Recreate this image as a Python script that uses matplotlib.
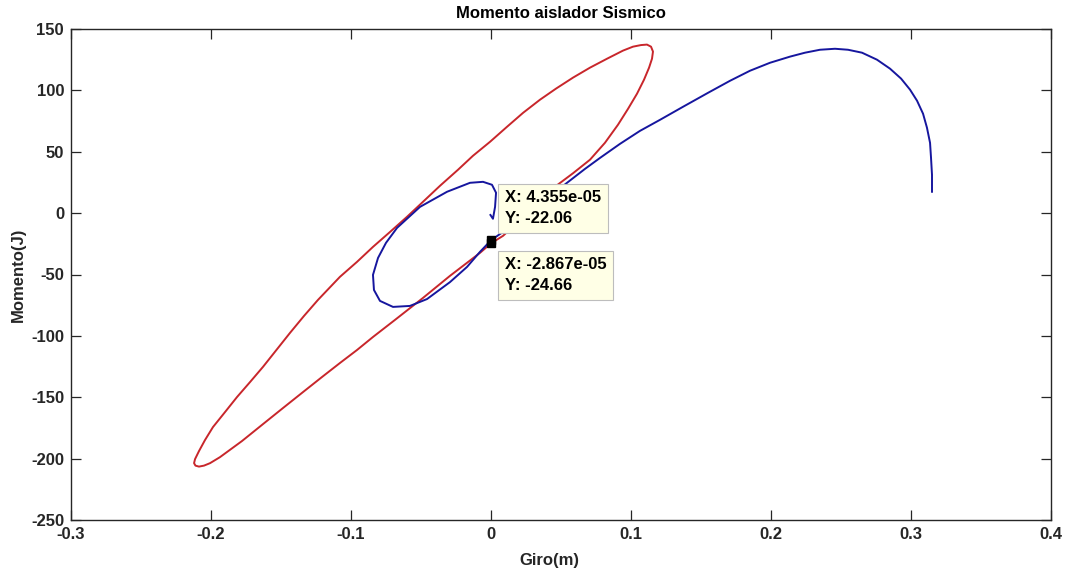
import matplotlib
matplotlib.use("Agg")
import matplotlib.pyplot as plt

plt.rcParams['font.family'] = ['Liberation Sans', 'DejaVu Sans']
plt.rcParams['axes.unicode_minus'] = False

# ---- data ----
red_x = [-2.867e-05, 0.0086, 0.0279, 0.0457, 0.0586, 0.0707, 0.0814, 0.0907, 0.0979,
         0.1043, 0.1093, 0.1129, 0.1150, 0.1157, 0.1143, 0.1114, 0.1071, 0.1014,
         0.0943, 0.0829, 0.0707, 0.0586, 0.0464, 0.0350, 0.0229, 0.0114, -0.0007,
         -0.0129, -0.0236, -0.0364, -0.0486, -0.0600, -0.0721, -0.0843, -0.0957,
         -0.1079, -0.1236, -0.1336, -0.1436, -0.1629, -0.1721, -0.1814, -0.1900,
         -0.1986, -0.2043, -0.2086, -0.2114, -0.2121, -0.2111, -0.2086, -0.2050,
         -0.2007, -0.1936, -0.1779, -0.1629, -0.1486, -0.1343, -0.1207, -0.1079,
         -0.0957, -0.0843, -0.0686, -0.0486, -0.0293, -0.0079, -2.867e-05]
red_y = [-24.66, -18.5, 1.9, 21.5, 32.5, 43.5, 57.3, 72.0, 85.0,
         97.3, 108.7, 118.5, 125.8, 131.6, 135.6, 137.3, 136.9, 135.6,
         132.4, 125.8, 118.5, 110.4, 101.4, 92.4, 81.7, 70.3, 58.1,
         46.7, 35.3, 22.3, 9.2, -3.0, -15.3, -27.5, -39.7,
         -51.9, -70.7, -83.8, -97.6, -125.3, -137.6, -149.8, -162.1,
         -174.3, -184.9, -193.9, -200.4, -203.7, -205.7, -206.5, -205.7,
         -203.7, -198.8, -185.7, -171.9, -158.8, -145.8, -133.5, -122.1,
         -111.5, -100.9, -87.0, -69.1, -51.1, -32.4, -24.66]

blue_x = [0.3150, 0.3150, 0.3143, 0.3136, 0.3114, 0.3086, 0.3043, 0.2993, 0.2929,
          0.2850, 0.2757, 0.2650, 0.2550, 0.2457, 0.2350, 0.2243, 0.2136, 0.1993,
          0.1850, 0.1707, 0.1550, 0.1371, 0.1207, 0.1064, 0.0921, 0.0779, 0.0671,
          0.0543, 0.0350, 0.0171, 0.0086, 4.355e-05, -0.0079, -0.0171, -0.0293,
          -0.0457, -0.0579, -0.0700, -0.0793, -0.0836, -0.0843, -0.0807, -0.0750,
          -0.0671, -0.0507, -0.0314, -0.0150, -0.0057, 0.0007, 0.0036, 0.0029,
          0.0014, -0.0004]
blue_y = [17.4, 31.2, 45.1, 57.3, 69.6, 81.0, 91.6, 100.6, 109.6,
          117.7, 125.0, 130.7, 133.1, 133.9, 133.1, 130.7, 127.5, 122.5,
          116.0, 107.8, 98.0, 86.6, 76.0, 67.0, 56.4, 45.0, 36.0,
          24.7, 7.6, -8.0, -15.3, -22.06, -31.6, -43.8, -56.2,
          -70.0, -75.6, -76.4, -71.5, -62.6, -50.3, -36.5, -24.2,
          -12.0, 5.1, 17.4, 24.7, 25.5, 23.1, 16.6, 5.1,
          -4.6, -1.5]

tip_x = [4.355e-05, -2.867e-05]
tip_y = [-22.06, -24.66]
tip_labels = ["X: 4.355e-05\nY: -22.06", "X: -2.867e-05\nY: -24.66"]

x_ticks = [-0.3, -0.2, -0.1, 0, 0.1, 0.2, 0.3, 0.4]
x_ticklabels = ["-0.3", "-0.2", "-0.1", "0", "0.1", "0.2", "0.3", "0.4"]
y_ticks = [-250, -200, -150, -100, -50, 0, 50, 100, 150]

# ---- figure ----
fig = plt.figure(figsize=(10.68, 5.71), dpi=100)
ax = fig.add_axes([71/1068, 51/571, 980/1068, 491/571])

ax.plot(red_x, red_y, color='#C8262B', lw=1.4, solid_joinstyle='round')
ax.plot(blue_x, blue_y, color='#16169E', lw=1.4, solid_joinstyle='round')

ax.plot(tip_x, tip_y, linestyle='none', marker='s', ms=6, mfc='black', mec='black', zorder=5)

offsets = [(14, 14), (14, -14)]
valigns = ['bottom', 'top']
for tx, ty, lab, off, va in zip(tip_x, tip_y, tip_labels, offsets, valigns):
    ax.annotate(lab, xy=(tx, ty), xytext=off, textcoords='offset pixels',
                ha='left', va=va, fontsize=12, fontweight='bold', color='black',
                linespacing=1.5,
                bbox=dict(boxstyle='square,pad=0.4', fc='#FFFFE6', ec='#BDBDBD', lw=0.8),
                zorder=6)

ax.set_xlim(-0.3, 0.4)
ax.set_ylim(-250, 150)
ax.set_xticks(x_ticks)
ax.set_xticklabels(x_ticklabels)
ax.set_yticks(y_ticks)

for s in ax.spines.values():
    s.set_color('#262626')
    s.set_linewidth(1.0)

ax.tick_params(direction='in', length=7, width=0.9, color='#262626',
               top=True, right=True, labelsize=12, labelcolor='#262626', pad=5)
for lbl in ax.get_xticklabels() + ax.get_yticklabels():
    lbl.set_fontweight('bold')

ax.set_title('Momento aislador Sismico', fontsize=12, fontweight='bold', color='black', pad=8)
ax.set_xlabel('Giro(m)', fontsize=12, fontweight='bold', color='#262626')
ax.set_ylabel('Momento(J)', fontsize=12, fontweight='bold', color='#262626')
ax.xaxis.set_label_coords(0.488, -0.068)
ax.yaxis.set_label_coords(-0.046, 0.5)

fig.savefig('out.png', dpi=100)
